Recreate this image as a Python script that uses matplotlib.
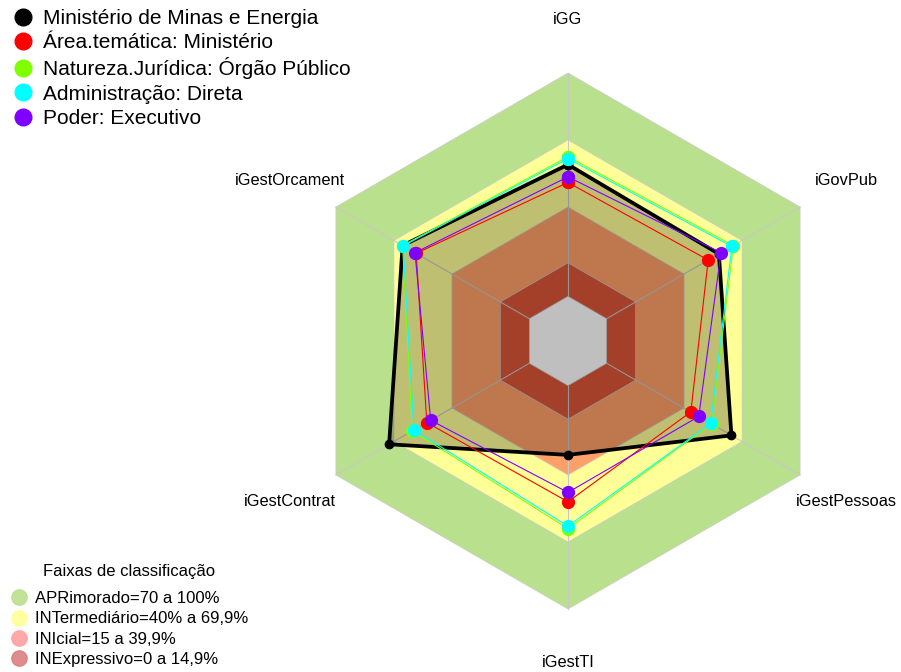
import matplotlib
matplotlib.use('Agg')
import matplotlib.pyplot as plt
import numpy as np
from matplotlib.lines import Line2D

plt.rcParams['font.family'] = ['Liberation Sans', 'DejaVu Sans']

# Axis labels, counter-clockwise starting at the top
eixos = ["iGG", "iGestOrcament", "iGestContrat", "iGestTI", "iGestPessoas", "iGovPub"]

# Series values (fraction 0..1), same order as eixos
ministerio = [0.59, 0.655, 0.725, 0.31, 0.645, 0.58]
area_tematica = [0.51, 0.585, 0.53, 0.52, 0.435, 0.525]
natureza_juridica = [0.625, 0.655, 0.605, 0.64, 0.542, 0.655]
administracao = [0.617, 0.652, 0.597, 0.629, 0.538, 0.647]
poder = [0.535, 0.591, 0.51, 0.478, 0.476, 0.591]

series_nomes = ["Ministério de Minas e Energia", "Área.temática: Ministério",
                "Natureza.Jurídica: Órgão Público", "Administração: Direta",
                "Poder: Executivo"]
series_cores = ["#000000", "#FF0000", "#80FF00", "#00FFFF", "#8000FF"]

# Classification bands
faixas_limite = [1.0, 0.70, 0.40, 0.15]
faixas_nomes = ["APRimorado=70 a 100%", "INTermediário=40% a 69,9%",
                "INIcial=15 a 39,9%", "INExpressivo=0 a 14,9%"]
faixas_cores = ["#B9E08C", "#FFFF98", "#FFA068", "#DC5538"]
faixas_legenda = ["#B9E08C", "#FFFF98", "#FFA0A0", "#DC8080"]

theta = np.deg2rad(90 + 60 * np.arange(len(eixos)))


def raio(v):
    # fmsb-like: 0 maps to 1/6 of the radius, 1 maps to full radius
    return 1 / 6 + 5 / 6 * np.asarray(v, dtype=float)


def fechado(r):
    r = np.broadcast_to(r, theta.shape)
    x = np.append(r * np.cos(theta), r[0] * np.cos(theta[0]))
    y = np.append(r * np.sin(theta), r[0] * np.sin(theta[0]))
    return x, y


fig = plt.figure(figsize=(9.01, 6.72), dpi=100)
ax = fig.add_axes([0, 0, 1, 1])
R = 268.0
ax.set_xlim(-568 / R, 333 / R)
ax.set_ylim(-331 / R, 341 / R)
ax.set_aspect('equal')
ax.axis('off')

# bands
for lim, cor in zip(faixas_limite, faixas_cores):
    x, y = fechado(raio(lim))
    ax.fill(x, y, color=cor, ec='#CCCCCC', lw=0.5, zorder=1)
x, y = fechado(raio(0.0))
ax.fill(x, y, color='white', ec='#CCCCCC', lw=0.5, zorder=1)

# spokes
r0 = raio(0.0)
for t in theta:
    ax.plot([r0 * np.cos(t), np.cos(t)], [r0 * np.sin(t), np.sin(t)],
            color='#C8C8C8', lw=0.8, zorder=2)

# series
todas = [ministerio, area_tematica, natureza_juridica, administracao, poder]
for i, (vals, cor) in enumerate(zip(todas, series_cores)):
    x, y = fechado(raio(vals))
    if i == 0:
        ax.fill(x, y, color='black', alpha=0.25, lw=0, zorder=3)
        ax.plot(x, y, color=cor, lw=2.7, marker='o', ms=6, zorder=4)
    else:
        ax.plot(x, y, color=cor, lw=0.8, marker='o', ms=8.5, zorder=4 + i)

# axis labels
for lab, t in zip(eixos, theta):
    ax.text(1.2 * np.cos(t), 1.2 * np.sin(t), lab, ha='center', va='center',
            fontsize=11.8)

# legends
h1 = [Line2D([], [], ls='', marker='o', ms=12, color=c) for c in series_cores]
leg1 = ax.legend(h1, series_nomes, loc='upper left',
                 bbox_to_anchor=(13 / 901, 1 - 9 / 672), bbox_transform=fig.transFigure,
                 frameon=False, fontsize=15, handlelength=1.0, handletextpad=0.45,
                 labelspacing=0.25, borderpad=0, borderaxespad=0)
ax.add_artist(leg1)

h2 = [Line2D([], [], ls='', marker='o', ms=11, color=c, alpha=0.9) for c in faixas_legenda]
leg2 = ax.legend(h2, faixas_nomes, loc='lower left',
                 bbox_to_anchor=(11 / 901, 5 / 672), bbox_transform=fig.transFigure,
                 frameon=False, fontsize=12, handlelength=1.0,
                 handletextpad=0.42, labelspacing=0.32, borderpad=0, borderaxespad=0)
fig.text(129 / 901, 1 - 571.5 / 672, 'Faixas de classificação', ha='center',
         va='center', fontsize=12)

fig.savefig('out.png', dpi=100)
